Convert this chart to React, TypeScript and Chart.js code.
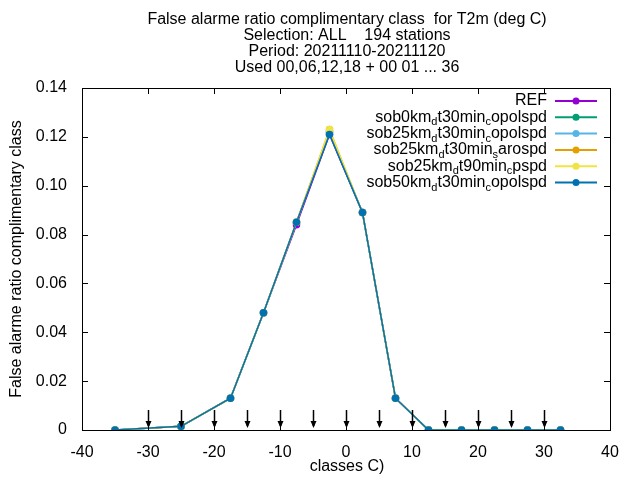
import React, { useEffect, useRef } from 'react';
import { Chart, registerables } from 'chart.js';

const classes = [-35, -25, -17.5, -12.5, -7.5, -2.5, 2.5, 7.5, 12.5, 17.5, 22.5, 27.5, 32.5];
const refVals = [0, 0.0015, 0.013, 0.048, 0.084, 0.121, 0.089, 0.013, 0, 0, 0, 0, 0];
const sob0Vals = [0, 0.0015, 0.013, 0.048, 0.085, 0.122, 0.089, 0.013, 0, 0, 0, 0, 0];
const sob25Vals = [0, 0.0015, 0.013, 0.048, 0.085, 0.122, 0.089, 0.013, 0, 0, 0, 0, 0];
const sob25sVals = [0, 0.0015, 0.013, 0.048, 0.085, 0.123, 0.089, 0.013, 0, 0, 0, 0, 0];
const sob25t90Vals = [0, 0.0015, 0.013, 0.048, 0.085, 0.123, 0.089, 0.013, 0, 0, 0, 0, 0];
const sob50Vals = [0, 0.0015, 0.013, 0.048, 0.085, 0.121, 0.089, 0.013, 0, 0, 0, 0, 0];
const arrowX = [-30, -25, -20, -15, -10, -5, 0, 5, 10, 15, 20, 25, 30];

// legend labels: [text, subscript] pieces
const legendParts: [string, boolean][][] = [
  [['REF', false]],
  [['sob0km', false], ['d', true], ['t30min', false], ['c', true], ['opolspd', false]],
  [['sob25km', false], ['d', true], ['t30min', false], ['c', true], ['opolspd', false]],
  [['sob25km', false], ['d', true], ['t30min', false], ['s', true], ['arospd', false]],
  [['sob25km', false], ['d', true], ['t90min', false], ['c', true], ['pspd', false]],
  [['sob50km', false], ['d', true], ['t30min', false], ['c', true], ['opolspd', false]],
];
const seriesVals = [refVals, sob0Vals, sob25Vals, sob25sVals, sob25t90Vals, sob50Vals];
const colors = ['#9400d3', '#009e73', '#56b4e9', '#e69f00', '#f0e442', '#0072b2'];

const titleLines = [
  'False alarme ratio complimentary class  for T2m (deg C)',
  'Selection: ALL    194 stations',
  'Period: 20211110-20211120',
  'Used 00,06,12,18 + 00 01 ... 36',
];

const FAMILY = '"Liberation Sans", Arial, sans-serif';
const FONT = '16px ' + FAMILY;
const SUBFONT = '11px ' + FAMILY;

const gnuplotPlugin = {
  id: 'gnuplot',
  afterDraw(chart: any) {
    const ctx = chart.ctx;
    const { left, right, top, bottom } = chart.chartArea;
    const xs = chart.scales.x;
    const ys = chart.scales.y;
    ctx.save();
    ctx.strokeStyle = '#000';
    ctx.lineWidth = 1;
    ctx.strokeRect(left + 0.5, top + 0.5, right - left, bottom - top);
    ctx.beginPath();
    xs.ticks.forEach((t: any) => {
      const p = Math.round(xs.getPixelForValue(t.value)) + 0.5;
      ctx.moveTo(p, bottom); ctx.lineTo(p, bottom - 6);
      ctx.moveTo(p, top); ctx.lineTo(p, top + 6);
    });
    ys.ticks.forEach((t: any) => {
      const p = Math.round(ys.getPixelForValue(t.value)) + 0.5;
      ctx.moveTo(left, p); ctx.lineTo(left + 6, p);
      ctx.moveTo(right, p); ctx.lineTo(right - 6, p);
    });
    ctx.stroke();

    // arrows
    ctx.fillStyle = '#000';
    ctx.lineWidth = 1.5;
    arrowX.forEach((v) => {
      const p = Math.round(xs.getPixelForValue(v)) + 0.5;
      ctx.beginPath();
      ctx.moveTo(p, bottom - 20); ctx.lineTo(p, bottom - 4);
      ctx.stroke();
      ctx.beginPath();
      ctx.moveTo(p - 3, bottom - 9); ctx.lineTo(p, bottom - 2); ctx.lineTo(p + 3, bottom - 9);
      ctx.closePath(); ctx.fill();
    });

    // titles
    ctx.font = FONT;
    ctx.textAlign = 'center';
    ctx.textBaseline = 'middle';
    titleLines.forEach((l, i) => ctx.fillText(l, 347, 20 + i * 16));
    ctx.fillText('classes C)', 347, 467);
    ctx.save();
    ctx.translate(17, 259);
    ctx.rotate(-Math.PI / 2);
    ctx.fillText('False alarme ratio complimentary class', 0, 0);
    ctx.restore();

    // legend
    const lineX0 = 555, lineX1 = 597;
    legendParts.forEach((parts, i) => {
      const y = 101 + i * 16.3;
      let w = 0;
      parts.forEach(([s, sub]) => {
        ctx.font = sub ? SUBFONT : FONT;
        w += ctx.measureText(s).width;
      });
      let x = 547 - w;
      ctx.textAlign = 'left';
      parts.forEach(([s, sub]) => {
        ctx.font = sub ? SUBFONT : FONT;
        ctx.fillStyle = '#000';
        ctx.fillText(s, x, sub ? y + 5 : y);
        x += ctx.measureText(s).width;
      });
      ctx.strokeStyle = colors[i];
      ctx.lineWidth = 2;
      ctx.beginPath(); ctx.moveTo(lineX0, y); ctx.lineTo(lineX1, y); ctx.stroke();
      ctx.fillStyle = colors[i];
      ctx.beginPath(); ctx.arc((lineX0 + lineX1) / 2, y, 3.5, 0, Math.PI * 2); ctx.fill();
    });
    ctx.restore();
  },
};

const App = () => {
  const canvasRef = useRef<HTMLCanvasElement>(null);

  useEffect(() => {
    Chart.register(...registerables);
    const ctx: any = canvasRef.current && canvasRef.current.getContext('2d');
    const config: any = {
      type: 'line',
      data: {
        datasets: seriesVals.map((vals, i) => ({
          label: 'series' + i,
          data: classes.map((c, j) => ({ x: c, y: vals[j] })),
          borderColor: colors[i],
          backgroundColor: colors[i],
          borderWidth: 1.5,
          pointRadius: 3,
          pointStyle: 'circle',
          order: seriesVals.length - i,
        })),
      },
      options: {
        animation: false,
        responsive: false,
        layout: { padding: { left: 0, right: 30, top: 88, bottom: 0 } },
        plugins: { legend: { display: false }, title: { display: false }, tooltip: { enabled: false } },
        scales: {
          x: {
            type: 'linear', min: -40, max: 40,
            ticks: { stepSize: 10, color: '#000', font: { family: FAMILY, size: 16 }, padding: 5 },
            grid: { display: false },
            border: { display: false },
            afterFit: (s: any) => { s.height = 50; },
          },
          y: {
            min: 0, max: 0.14,
            ticks: { stepSize: 0.02, color: '#000', font: { family: FAMILY, size: 16 }, padding: 7 },
            grid: { display: false },
            border: { display: false },
            afterFit: (s: any) => { s.width = 82; },
          },
        },
      },
      plugins: [gnuplotPlugin],
    };
    const chart = new Chart(ctx, config);
    return () => {
      chart.destroy();
    };
  }, []);

  return <div style={{ position: 'fixed', left: 0, top: 0, width: 640, height: 480, background: '#fff' }}>
    <canvas ref={canvasRef} width={640} height={480} style={{ width: '640px', height: '480px' }}></canvas>
  </div>;
};

export default App;
